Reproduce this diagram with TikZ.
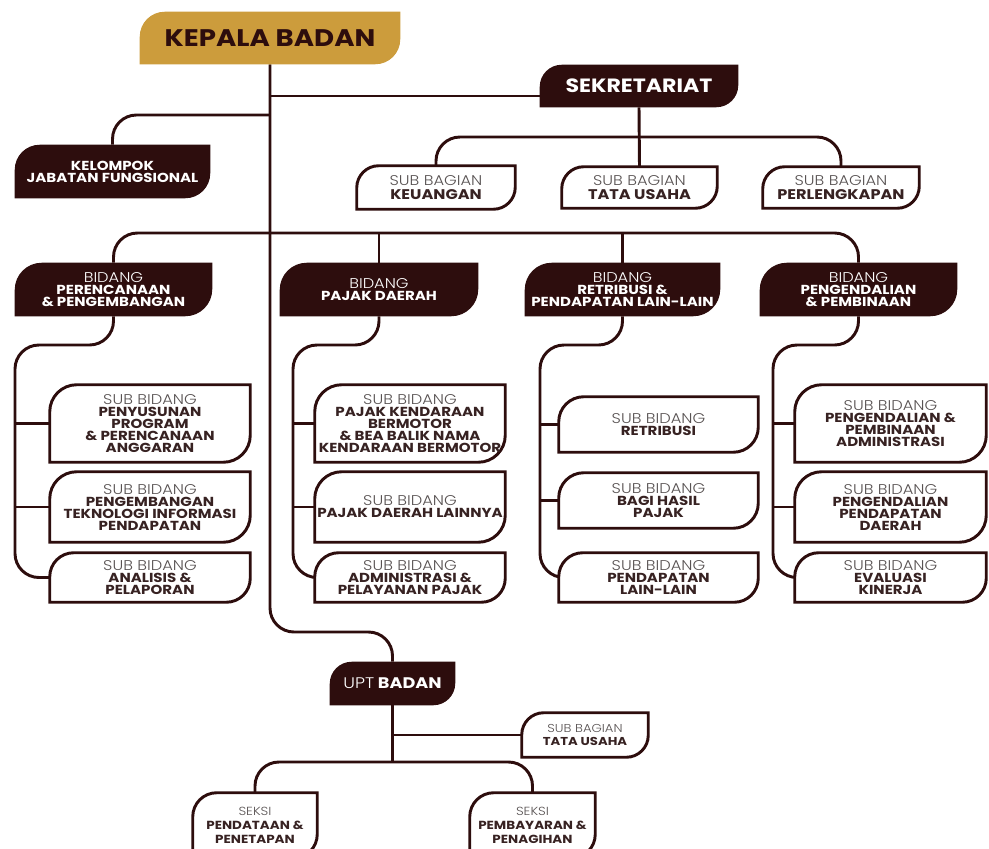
\documentclass[tikz,border=0pt]{standalone}
\usepackage{fontspec}
\setmainfont{Poppins}[FakeStretch=1.15]
\newfontfamily\lightfont{Poppins Light}[FakeStretch=1.15]
\usetikzlibrary{calc,backgrounds}

\definecolor{darkbrown}{RGB}{45,13,13}
\definecolor{gold}{RGB}{204,156,60}
\definecolor{subtext}{RGB}{55,34,34}
\definecolor{greytext}{RGB}{88,82,82}

% light text, in header boxes and in white boxes
\newcommand\lt[1]{{\lightfont\mdseries\fontsize{10.6}{9}\selectfont #1}}
\newcommand\sublt[1]{{\lightfont\mdseries\fontsize{10.6}{9}\selectfont\color{greytext}#1}}
\newcommand\smlt[1]{{\lightfont\mdseries\color{greytext}#1}}
% box with two rounded corners (top left, bottom right)
\newcommand\leaf[3][]{%
  \path[#1] (#2.south west) -- ($(#2.north west)+(0,#3)$)
    arc[start angle=180,end angle=270,radius=#3]
    -- (#2.north east) -- ($(#2.south east)-(0,#3)$)
    arc[start angle=0,end angle=90,radius=#3] -- cycle;}

\tikzset{
  boxat/.style n args={4}{at={({(#1+#3)/2},{(#2+#4)/2})},
    minimum width={(#3-#1)*0.75pt}, minimum height={(#4-#2)*0.75pt}},
  hdr/.style={inner sep=0pt, align=center, text=white,
    font=\bfseries\fontsize{9.8}{9}\selectfont},
  sub/.style={inner sep=0pt, align=center, text=subtext,
    font=\bfseries\fontsize{9.8}{9}\selectfont},
  bagian/.style={sub, font=\bfseries\fontsize{10.5}{9.9}\selectfont},
  seksi/.style={sub, font=\bfseries\fontsize{8.8}{10.6}\selectfont},
  conn/.style={draw=darkbrown, line width=2.2pt, rounded corners=18pt},
  darkleaf/.style={fill=darkbrown},
  whiteleaf/.style={fill=white, draw=darkbrown, line width=2.2pt},
}

\begin{document}
\begin{tikzpicture}[x=0.75pt,y=0.75pt,yscale=-1,xscale=1]
\useasboundingbox (0,0) rectangle (989,849);

% Text Node
\node[boxat={140}{12}{400}{64}, inner sep=0pt, text=darkbrown,
  font=\bfseries\fontsize{18}{20}\selectfont] (kb) {KEPALA BADAN};
% Text Node
\node[hdr, boxat={540}{65}{738}{107},
  font=\bfseries\fontsize{14.4}{16}\selectfont] (sek) {SEKRETARIAT};
\node[hdr, boxat={15}{145}{210}{198}] (kjf) {KELOMPOK\\JABATAN FUNGSIONAL};

% sub bagian
\node[bagian, boxat={357}{166}{515}{209}] (keu) {\sublt{SUB BAGIAN}\\KEUANGAN};
\node[bagian, boxat={562}{167}{717}{208}] (tu1) {\sublt{SUB BAGIAN}\\TATA USAHA};
\node[bagian, boxat={763}{167}{919}{208}] (perl) {\sublt{SUB BAGIAN}\\PERLENGKAPAN};

% bidang
\node[hdr, boxat={15}{263}{212}{316}] (b1) {\lt{BIDANG}\\PERENCANAAN\\\& PENGEMBANGAN};
\node[hdr, boxat={280}{263}{478}{316}] (b2) {\lt{BIDANG}\\PAJAK DAERAH};
\node[hdr, boxat={525}{263}{720}{316}] (b3) {\lt{BIDANG}\\RETRIBUSI \&\\PENDAPATAN LAIN-LAIN};
\node[hdr, boxat={760}{263}{957}{316}] (b4) {\lt{BIDANG}\\PENGENDALIAN\\\& PEMBINAAN};

% sub bidang
\node[sub, boxat={50}{385}{250}{462}] (s11) {\sublt{SUB BIDANG}\\PENYUSUNAN\\PROGRAM\\\& PERENCANAAN\\ANGGARAN};
\node[sub, boxat={50}{472}{250}{542}] (s12) {\sublt{SUB BIDANG}\\PENGEMBANGAN\\TEKNOLOGI INFORMASI\\PENDAPATAN};
\node[sub, boxat={50}{553}{250}{602}] (s13) {\sublt{SUB BIDANG}\\ANALISIS \&\\PELAPORAN};

\node[sub, boxat={315}{385}{505}{462}] (s21) {\sublt{SUB BIDANG}\\PAJAK KENDARAAN\\BERMOTOR\\\& BEA BALIK NAMA\\KENDARAAN BERMOTOR};
\node[sub, boxat={315}{472}{505}{542}] (s22) {\sublt{SUB BIDANG}\\PAJAK DAERAH LAINNYA};
\node[sub, boxat={315}{553}{505}{602}] (s23) {\sublt{SUB BIDANG}\\ADMINISTRASI \&\\PELAYANAN PAJAK};

\node[sub, boxat={559}{397}{758}{452}] (s31) {\sublt{SUB BIDANG}\\RETRIBUSI};
\node[sub, boxat={559}{473}{758}{528}] (s32) {\sublt{SUB BIDANG}\\BAGI HASIL\\PAJAK};
\node[sub, boxat={559}{553}{758}{602}] (s33) {\sublt{SUB BIDANG}\\PENDAPATAN\\LAIN-LAIN};

\node[sub, boxat={795}{385}{986}{462}] (s41) {\sublt{SUB BIDANG}\\PENGENDALIAN \&\\PEMBINAAN\\ADMINISTRASI};
\node[sub, boxat={795}{472}{986}{542}] (s42) {\sublt{SUB BIDANG}\\PENGENDALIAN\\PENDAPATAN\\DAERAH};
\node[sub, boxat={795}{553}{986}{602}] (s43) {\sublt{SUB BIDANG}\\EVALUASI\\KINERJA};

% upt
\node[hdr, boxat={330}{662}{455}{705},
  font=\bfseries\fontsize{11.5}{14}\selectfont] (upt) {{\lightfont\mdseries UPT} BADAN};
\node[seksi, boxat={522}{713}{648}{757}, font=\bfseries\fontsize{8.6}{10.4}\selectfont] (tu2) {\smlt{SUB BAGIAN}\\TATA USAHA};
\node[seksi, boxat={193}{793}{317}{858}] (sk1) {\smlt{SEKSI}\\PENDATAAN \&\\PENETAPAN};
\node[seksi, boxat={470}{793}{595}{858}] (sk2) {\smlt{SEKSI}\\PEMBAYARAN \&\\PENAGIHAN};

\begin{scope}[on background layer]
%Straight Lines
\draw[conn] (kb.south) -- (kb.south |- 0,632) -- (upt.north |- 0,632) -- (upt.north);
\draw[conn] (kb.south |- 0,96) -- (sek.west |- 0,96);
\draw[conn] (kb.south |- 0,115) -- (kjf.north |- 0,115) -- (kjf.north);
\draw[conn] (sek.south) -- (tu1.north);
\draw[conn] (keu.north) -- (keu.north |- 0,137) -- (perl.north |- 0,137) -- (perl.north);
\draw[conn] (b1.north) -- (b1.north |- 0,233) -- (b4.north |- 0,233) -- (b4.north);
\draw[conn] (b2.north |- 0,233) -- (b2.north);
\draw[conn] (b3.north |- 0,233) -- (b3.north);
%Curve Lines
\draw[conn] (b1.south) -- (b1.south |- 0,345) -- (15,345) -- (15,0 |- s13.west) -- (s13.west);
\draw[conn] (15,0 |- s11.west) -- (s11.west);
\draw[conn] (15,0 |- s12.west) -- (s12.west);
\draw[conn] (b2.south) -- (b2.south |- 0,345) -- (293,345) -- (293,0 |- s23.west) -- (s23.west);
\draw[conn] (293,0 |- s21.west) -- (s21.west);
\draw[conn] (293,0 |- s22.west) -- (s22.west);
\draw[conn] (b3.south) -- (b3.south |- 0,345) -- (540,345) -- (540,0 |- s33.west) -- (s33.west);
\draw[conn] (540,0 |- s31.west) -- (s31.west);
\draw[conn] (540,0 |- s32.west) -- (s32.west);
\draw[conn] (b4.south) -- (b4.south |- 0,345) -- (773,345) -- (773,0 |- s43.west) -- (s43.west);
\draw[conn] (773,0 |- s41.west) -- (s41.west);
\draw[conn] (773,0 |- s42.west) -- (s42.west);
\draw[conn] (upt.south) -- (upt.south |- 0,762);
\draw[conn] (upt.south |- tu2.west) -- (tu2.west);
\draw[conn] (sk1.north) -- (sk1.north |- 0,762) -- (sk2.north |- 0,762) -- (sk2.north);

% boxes
\leaf[fill=gold]{kb}{25}
\leaf[darkleaf]{sek}{22}
\leaf[darkleaf]{kjf}{25}
\leaf[whiteleaf]{keu}{22}
\leaf[whiteleaf]{tu1}{22}
\leaf[whiteleaf]{perl}{22}
\leaf[darkleaf]{b1}{27}
\leaf[darkleaf]{b2}{27}
\leaf[darkleaf]{b3}{27}
\leaf[darkleaf]{b4}{27}
\leaf[whiteleaf]{s11}{27}
\leaf[whiteleaf]{s12}{27}
\leaf[whiteleaf]{s13}{24}
\leaf[whiteleaf]{s21}{27}
\leaf[whiteleaf]{s22}{27}
\leaf[whiteleaf]{s23}{24}
\leaf[whiteleaf]{s31}{25}
\leaf[whiteleaf]{s32}{25}
\leaf[whiteleaf]{s33}{24}
\leaf[whiteleaf]{s41}{27}
\leaf[whiteleaf]{s42}{27}
\leaf[whiteleaf]{s43}{24}
\leaf[darkleaf]{upt}{22}
\leaf[whiteleaf]{tu2}{22}
\leaf[whiteleaf]{sk1}{24}
\leaf[whiteleaf]{sk2}{24}
\end{scope}
\end{tikzpicture}
\end{document}
